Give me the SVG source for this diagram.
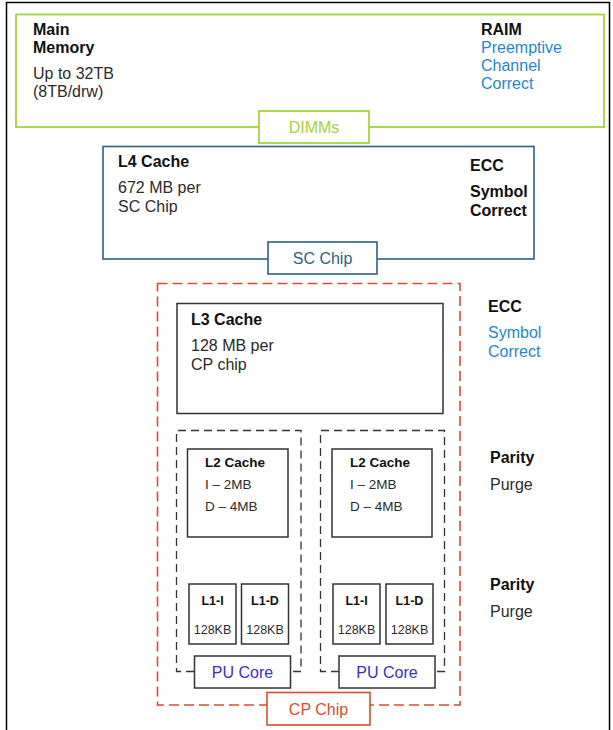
<svg xmlns="http://www.w3.org/2000/svg" width="613" height="730" viewBox="0 0 613 730">
<style>
text{font-family:"Liberation Sans",Arial,sans-serif;font-size:16px;fill:#2b2b2b}
.b{font-weight:bold;fill:#111}
.blue{fill:#1f86d3}
.s{font-size:13.5px}
.xs{font-size:12.5px}
.c{text-anchor:middle}
.box{fill:#fff;stroke:#333;stroke-width:1.5}
.dash{fill:none;stroke:#333;stroke-width:1.3;stroke-dasharray:8 5}
</style>
<rect width="613" height="730" fill="#fff"/>
<path d="M6.5 730V2.5H609.5V730" fill="none" stroke="#000" stroke-width="1.5"/>

<g id="main-memory">
<rect x="16" y="14.5" width="588" height="112.5" fill="none" stroke="#a6d33a" stroke-width="1.8"/>
<text class="b" x="33" y="35">Main</text>
<text class="b" x="33" y="53">Memory</text>
<text x="33" y="79">Up to 32TB</text>
<text x="33" y="97">(8TB/drw)</text>
<text class="b" x="481" y="35">RAIM</text>
<text class="blue" x="481" y="53">Preemptive</text>
<text class="blue" x="481" y="71">Channel</text>
<text class="blue" x="481" y="89">Correct</text>
</g>
<g id="dimms">
<rect x="259" y="111" width="110" height="32" fill="#fff" stroke="#a6d33a" stroke-width="1.8"/>
<text class="c" x="314" y="133" style="fill:#a6d33a">DIMMs</text>
</g>

<g id="l4-cache">
<rect x="103" y="146.5" width="431" height="112.5" fill="none" stroke="#2f5f8a" stroke-width="1.6"/>
<text class="b" x="118" y="167">L4 Cache</text>
<text x="118" y="193">672 MB per</text>
<text x="118" y="212">SC Chip</text>
<text class="b" x="470" y="171">ECC</text>
<text class="b" x="470" y="197">Symbol</text>
<text class="b" x="470" y="216">Correct</text>
</g>
<g id="sc-chip">
<rect x="268" y="242" width="109" height="32" fill="#fff" stroke="#2f5f8a" stroke-width="1.6"/>
<text class="c" x="322.5" y="264" style="fill:#2f5f8a">SC Chip</text>
</g>

<g id="cp-chip-area">
<rect x="157.5" y="283.5" width="302.5" height="421.5" fill="none" stroke="#e04a30" stroke-width="1.6" stroke-dasharray="10 5"/>
<text class="b" x="488" y="312">ECC</text>
<text class="blue" x="488" y="338">Symbol</text>
<text class="blue" x="488" y="357">Correct</text>
<text class="b" x="490" y="463">Parity</text>
<text x="490" y="490">Purge</text>
<text class="b" x="490" y="590">Parity</text>
<text x="490" y="617">Purge</text>
</g>

<g id="l3-cache">
<rect class="box" x="177" y="303.5" width="266" height="110"/>
<text class="b" x="191" y="325">L3 Cache</text>
<text x="191" y="351">128 MB per</text>
<text x="191" y="370">CP chip</text>
</g>

<g id="connectors">
<path class="dash" d="M194 671.5H176.5V430.5H301V671.5H290"/>
<path class="dash" d="M339 671.5H320.5V430.5H444.5V671.5H435"/>
</g>

<g id="l2-cache-1">
<rect class="box" x="187.5" y="449" width="100.5" height="88"/>
<text class="b s" x="205" y="467">L2 Cache</text>
<text class="s" x="205" y="489">I – 2MB</text>
<text class="s" x="205" y="511">D – 4MB</text>
</g>
<g id="l2-cache-2">
<rect class="box" x="332" y="449" width="100" height="88"/>
<text class="b s" x="350" y="467">L2 Cache</text>
<text class="s" x="350" y="489">I – 2MB</text>
<text class="s" x="350" y="511">D – 4MB</text>
</g>

<g id="l1-i-1">
<rect class="box" x="189" y="584" width="47" height="60"/>
<text class="b xs c" x="212.5" y="605">L1-I</text>
<text class="xs c" x="212.5" y="634">128KB</text>
</g>
<g id="l1-d-1">
<rect class="box" x="241.5" y="584" width="47" height="60"/>
<text class="b xs c" x="265" y="605">L1-D</text>
<text class="xs c" x="265" y="634">128KB</text>
</g>
<g id="l1-i-2">
<rect class="box" x="333" y="584" width="47" height="60"/>
<text class="b xs c" x="356.5" y="605">L1-I</text>
<text class="xs c" x="356.5" y="634">128KB</text>
</g>
<g id="l1-d-2">
<rect class="box" x="386" y="584" width="47" height="60"/>
<text class="b xs c" x="409.5" y="605">L1-D</text>
<text class="xs c" x="409.5" y="634">128KB</text>
</g>

<g id="pu-core-1">
<rect class="box" x="194.5" y="656" width="96" height="32"/>
<text class="c" x="242.5" y="678" style="fill:#3a2ed0">PU Core</text>
</g>
<g id="pu-core-2">
<rect class="box" x="339" y="656" width="96" height="32"/>
<text class="c" x="387" y="678" style="fill:#3a2ed0">PU Core</text>
</g>

<g id="cp-chip">
<rect x="267" y="692.5" width="103" height="32.5" fill="#fff" stroke="#e04a30" stroke-width="1.6"/>
<text class="c" x="318.5" y="715" style="fill:#e04a30">CP Chip</text>
</g>
</svg>
